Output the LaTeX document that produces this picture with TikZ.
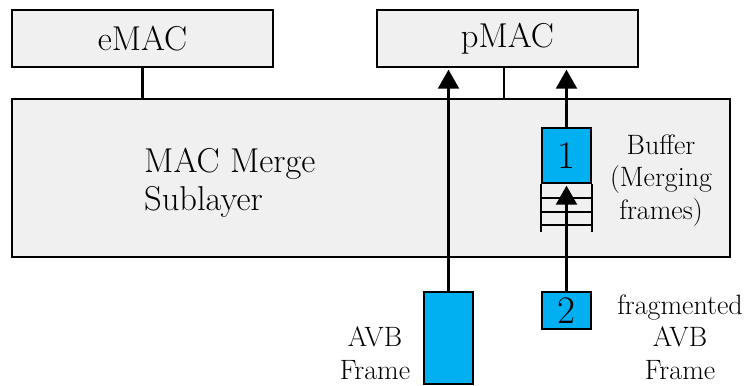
\documentclass[tikz,border=0pt]{standalone}
\usetikzlibrary{arrows.meta}
\definecolor{boxgray}{HTML}{F0F0F0}
\definecolor{frameblue}{HTML}{00B0F0}
\begin{document}
\begin{tikzpicture}[x=1pt,y=-1pt, line width=2.4pt,
  graybox/.style={draw, fill=boxgray, inner sep=0pt},
  bluebox/.style={draw, fill=frameblue, inner sep=0pt},
  arr/.style={-{Triangle[length=19pt,width=21pt]}},
  lbl/.style={align=center, inner sep=0pt, font=\fontsize{28}{32.5}\selectfont},
  big/.style={font=\fontsize{34.5}{38}\selectfont},
  digit/.style={font=\fontsize{39}{40}\selectfont}]
\useasboundingbox (0,0) rectangle (748,386);
% top boxes
\node[graybox, big, minimum width=261pt, minimum height=57pt] (emac) at (142.5,38.5) {eMAC};
\node[graybox, big, minimum width=261pt, minimum height=57pt] (pmac) at (507.5,38.5) {pMAC};
% merge sublayer
\node[graybox, minimum width=718pt, minimum height=158pt] (mms) at (371,178) {};
\node[big, align=left, inner sep=0pt, anchor=north west] (mmstxt) at (143,146.5) {MAC Merge\\Sublayer};
\draw (emac.south) -- (emac.south |- mms.north);
\draw ([xshift=-3.5pt]pmac.south) -- ([xshift=-3.5pt]pmac.south |- mms.north);
% frames
\node[bluebox, minimum width=49pt, minimum height=92pt] (avb) at (448.5,338) {};
\node[bluebox, digit, minimum width=49pt, minimum height=37pt] (f2) at (566.5,310.5) {2};
\node[bluebox, digit, minimum width=49pt, minimum height=55pt] (f1) at (566.5,155.5) {1};
% buffer
\draw (f1.south west) -- ++(0,48) (f1.south east) -- ++(0,48);
\draw ([yshift=-14pt]f1.south west) -- ([yshift=-14pt]f1.south east);
\draw ([yshift=-28pt]f1.south west) -- ([yshift=-28pt]f1.south east);
\draw ([yshift=-41pt]f1.south west) -- ([yshift=-41pt]f1.south east);
% arrows
\draw[arr, shorten >=1.5pt] (avb.north) -- (avb.north |- pmac.south);
\draw[arr, shorten >=1.5pt] (f1.north) -- (f1.north |- pmac.south);
\draw[arr, shorten >=1.5pt] (f2.north) -- (f1.south);
% labels
\node[lbl] (buf) at (661,180.5) {Buffer\\(Merging\\frames)};
\node[lbl] (avbtxt) at (375,353) {AVB\\Frame};
\node[lbl] (fragtxt) at (680,337) {fragmented\\AVB\\Frame};
\end{tikzpicture}
\end{document}
